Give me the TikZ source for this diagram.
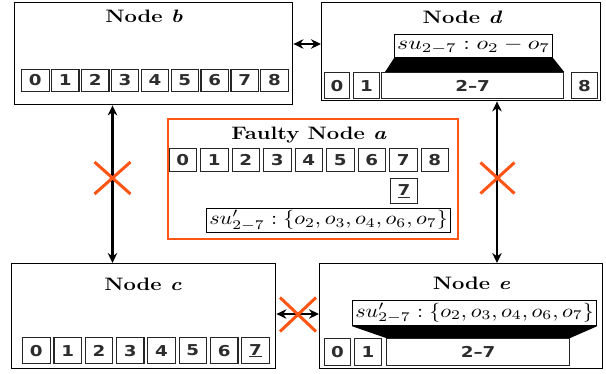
\documentclass[tikz,border=0pt]{standalone}
\usepackage{fontspec}
\usepackage{graphicx}
\usetikzlibrary{arrows.meta,shapes.misc}
\newfontfamily\digitfont{DejaVu Sans}
\definecolor{faultc}{RGB}{255,85,20}
\definecolor{digc}{RGB}{45,45,45}
\newcommand{\hs}[1]{\scalebox{1.22}[1]{#1}}
\newcommand{\mth}[2][2.21]{\scalebox{#1}[1.9]{\normalsize$#2$}}
\begin{document}
\begin{tikzpicture}[x=1pt,y=-1pt,
  box/.style={draw, line width=1.4pt, anchor=north west, inner sep=0},
  cellbox/.style={draw=black!85, line width=1.2pt, anchor=north west, inner sep=0,
    minimum width=27.5, font=\digitfont\bfseries\fontsize{15}{16}\selectfont, text=digc},
  titlenode/.style={anchor=base, inner sep=0, font=\bfseries\fontsize{18}{21}\selectfont},
  subox/.style={draw, line width=1.2pt, anchor=north west, inner sep=0},
  link/.style={line width=2.3pt, {Stealth[length=10pt,width=9.5pt]}-{Stealth[length=10pt,width=9.5pt]}},
  xmark/.style={cross out, draw=faultc, line width=3pt, inner sep=0}]
\useasboundingbox (0,0) rectangle (606,373);

% ---- Node b
\node[box, minimum width=278, minimum height=102] (b) at (14,2) {};
\node[titlenode] (btitle) at (144,22.5) {\hs{Node \textit{b}}};
\foreach \i in {0,...,8}
  \node[cellbox, minimum height=21.5] (b\i) at ({21+29.9*\i},69) {\hs{\i}};

% ---- Node d
\node[box, minimum width=279, minimum height=98] (d) at (321,2) {};
\node[titlenode] (dtitle) at (462.5,23) {\hs{Node \textit{d}}};
\node[subox, minimum width=158, minimum height=23] (dsu) at (394,34) {\mth[2.375]{su_{2-7}:o_2-o_7}};
\node[cellbox, minimum width=25, minimum height=26] (d0) at (324,72) {\hs{0}};
\node[cellbox, minimum width=26, minimum height=26] (d1) at (353,72) {\hs{1}};
\node[cellbox, minimum width=182, minimum height=26] (d27) at (381,72) {\hs{2–7}};
\node[cellbox, minimum width=26, minimum height=26] (d8) at (571,72) {\hs{8}};
\fill (dsu.south west) -- (dsu.south east) -- (d27.north east) -- ([xshift=4pt]d27.north west) -- cycle;

% ---- Faulty node a
\node[box, draw=faultc, line width=1.6pt, minimum width=290, minimum height=120] (a) at (167,118) {};
\node[titlenode] (atitle) at (309,139) {\hs{Faulty Node \textit{a}}};
\foreach \i in {0,...,8}
  \node[cellbox, minimum height=23] (a\i) at ({168.5+31.5*\i},148) {\hs{\i}};
\node[cellbox, minimum width=27, minimum height=25] (a7u) at (390,178) {\hs{\underline{7}}};
\node[subox, minimum width=244, minimum height=24] (asu) at (206,208) {\mth{su'_{2-7}:\{o_2,o_3,o_4,o_6,o_7\}}};

% ---- Node c
\node[box, minimum width=264, minimum height=105] (c) at (11,263) {};
\node[titlenode] (ctitle) at (143,290) {\hs{Node \textit{c}}};
\foreach \i in {0,...,6}
  \node[cellbox, minimum height=26] (c\i) at ({22+31.3*\i},337) {\hs{\i}};
\node[cellbox, minimum height=26] (c7) at ({22+31.3*7},337) {\hs{\underline{7}}};

% ---- Node e
\node[box, minimum width=283, minimum height=105] (e) at (319,263) {};
\node[titlenode] (etitle) at (471.5,289) {\hs{Node \textit{e}}};
\node[subox, minimum width=244, minimum height=25] (esu) at (352,300) {\mth{su'_{2-7}:\{o_2,o_3,o_4,o_6,o_7\}}};
\node[cellbox, minimum width=26, minimum height=27] (e0) at (324,338) {\hs{0}};
\node[cellbox, minimum width=27, minimum height=27] (e1) at (354,338) {\hs{1}};
\node[cellbox, minimum width=183, minimum height=27] (e27) at (386,338) {\hs{2–7}};
\fill (esu.south west) -- (esu.south east) -- (e27.north east) -- (e27.north west) -- cycle;

% ---- connectors
\coordinate (ybd) at (0,44);
\coordinate (xbc) at (112.5,0);
\coordinate (xde) at (497,0);
\coordinate (yce) at (0,314);
\draw[link] (b.east |- ybd) -- (d.west |- ybd);
\draw[link] (b.south -| xbc) -- (c.north -| xbc);
\draw[link] (d.south -| xde) -- (e.north -| xde);
\draw[link] (c.east |- yce) -- (e.west |- yce);

% ---- crosses
\node[xmark, minimum width=33, minimum height=29] (xmbc) at (112.5,178) {};
\node[xmark, minimum width=31, minimum height=28] (xmde) at (497.5,178) {};
\node[xmark, minimum width=33, minimum height=31] (xmce) at (298,314.5) {};
\end{tikzpicture}
\end{document}
